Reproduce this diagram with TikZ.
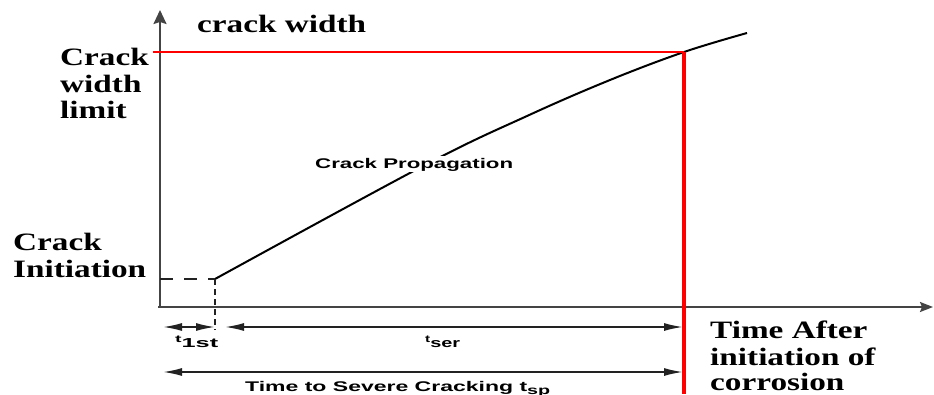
\documentclass[tikz,border=0pt]{standalone}
\usepackage{fontspec}
\setmainfont{Liberation Serif}
\setsansfont{Liberation Sans}
\usepackage{graphicx}
\usetikzlibrary{arrows.meta}
\definecolor{axisgray}{HTML}{444444}
\definecolor{dimgray}{HTML}{222222}
\definecolor{limitred}{HTML}{FF0000}
\newcommand\wide[1]{\scalebox{1.33}[1]{#1}}
\newcommand\fitw[2]{\resizebox{#1}{\height}{#2}}
\newcommand\tsub[1]{{\fontsize{10}{10}\selectfont t}\raisebox{-5pt}{\fontsize{13}{13}\selectfont #1}}
\begin{document}
\begin{tikzpicture}[x=1pt,y=-1pt,
  lbl/.style={anchor=base west, inner sep=0pt, font=\fontsize{25}{26}\selectfont\bfseries},
  sanslbl/.style={anchor=base west, inner sep=0pt, font=\fontsize{14}{15}\selectfont\sffamily\bfseries},
  yaxis/.style={draw=axisgray, line width=2pt, -{Stealth[length=14pt,width=13pt,inset=2pt]}},
  xaxis/.style={draw=axisgray, line width=2pt, -{Stealth[length=13pt,width=10pt,inset=2pt]}},
  dimline/.style={draw=dimgray, line width=1.7pt, {Latex[length=19pt,width=8pt]}-{Latex[length=19pt,width=8pt]}},
  curve/.style={draw=black, line width=2pt},
  limitline/.style={draw=limitred},
  guide/.style={draw=dimgray, line width=1.3pt}
]
\useasboundingbox (0,0) rectangle (934,394);

% axes
\coordinate (O) at (160,307);
\coordinate (Ytop) at (160,10);
\coordinate (Xend) at (933,307);
\coordinate (Ostart) at (158,307);
\draw[yaxis] (O) -- (Ytop);
\draw[xaxis] (Ostart) -- (Xend);

% crack growth curve
\coordinate (S) at (215,279);
\coordinate (E) at (747,33);
\draw[curve] plot[smooth, tension=0.6] coordinates {(215,279) (425,165) (527,116) (610,80) (684,52) (747,33)};

% red limit lines
\coordinate (L) at (153,52);
\coordinate (C) at (684,52);
\coordinate (B) at (684,394);
\draw[limitline, line width=2.5pt] (L) -- (C);
\draw[limitline, line width=3.5pt] (C) -- (B);

% dashed guides
\coordinate (Yi) at (160,279);
\coordinate (Sd) at (215,330);
\draw[guide, dash pattern=on 13pt off 11pt] (Yi) -- (S);
\draw[guide, dash pattern=on 6pt off 4pt] (S) -- (Sd);

% dimension arrows
\coordinate (a1) at (163,327);
\coordinate (a2) at (215,327);
\coordinate (b1) at (225,327);
\coordinate (b2) at (683,327);
\coordinate (c1) at (163,372);
\coordinate (c2) at (683,372);
\draw[dimline] (a1) -- (a2);
\draw[dimline] (b1) -- (b2);
\draw[dimline] (c1) -- (c2);

% labels
\node[sanslbl, fill=white, inner sep=1.5pt] (prop) at (313.5,168) {\fitw{198pt}{Crack Propagation}};
\node[sanslbl] (t1) at (175,342) {\fitw{43pt}{\tsub{1st}}};
\node[sanslbl] (tser) at (425,342) {\fitw{35pt}{\tsub{ser}}};
\node[sanslbl] (tsp) at (245,391) {\fitw{305pt}{Time to Severe Cracking t\raisebox{-3pt}{\fontsize{12}{12}\selectfont sp}}};

\node[lbl] (yl) at (197,32) {\wide{crack width}};
\node[lbl] (cl1) at (60,65) {\wide{Crack}};
\node[lbl] (cl2) at (60,92) {\wide{width}};
\node[lbl] (cl3) at (60,118) {\wide{limit}};
\node[lbl] (ci1) at (13,250) {\wide{Crack}};
\node[lbl] (ci2) at (13,277) {\wide{Initiation}};
\node[lbl] (ta1) at (710,338) {\wide{Time After}};
\node[lbl] (ta2) at (710,365) {\wide{initiation of}};
\node[lbl] (ta3) at (710,390) {\wide{corrosion}};
\end{tikzpicture}
\end{document}
